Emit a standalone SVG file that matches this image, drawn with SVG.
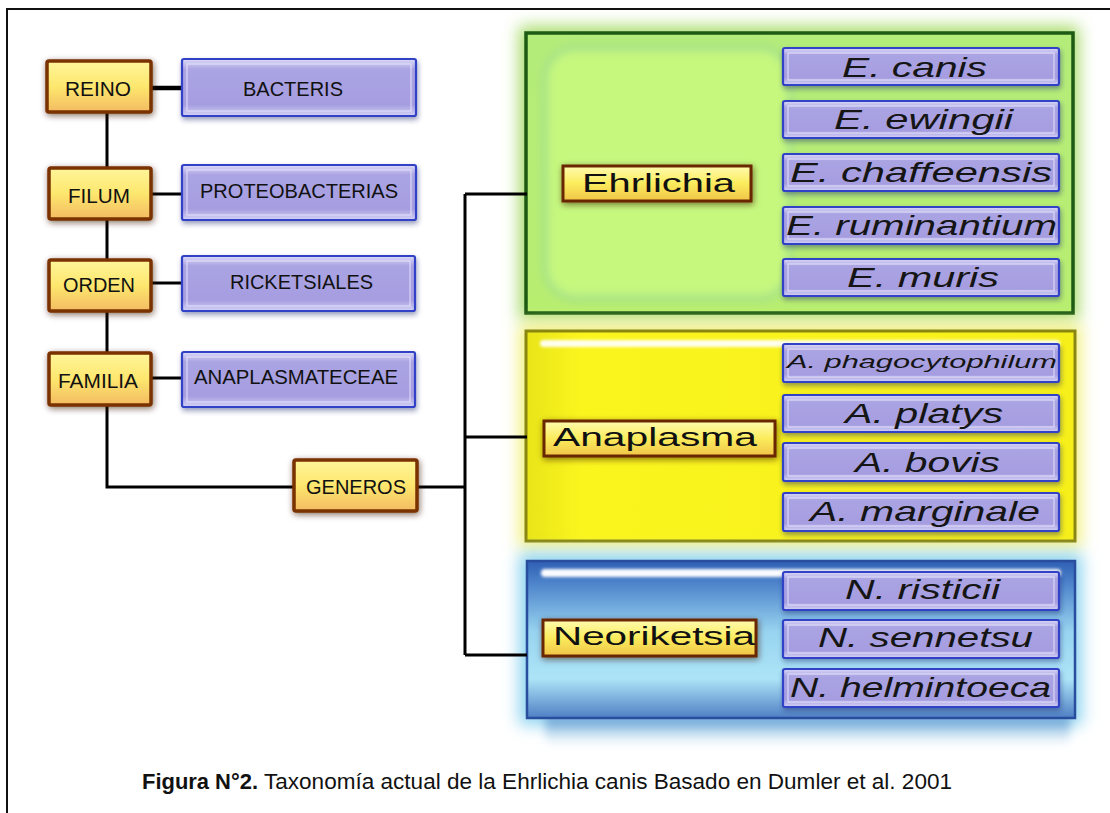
<svg xmlns="http://www.w3.org/2000/svg" width="1110" height="813" viewBox="0 0 1110 813">
<defs>
<style>
.lbl{font-family:"Liberation Sans",Arial,sans-serif;fill:#111;text-anchor:start}
.left{font-size:21px}
.sp{font-size:28px;font-style:italic;fill:#151515}
.gen{font-size:26px;fill:#111}
.ob{fill:url(#gOrange);stroke:#7a3000;stroke-width:3.5}
.ol{fill:url(#gOrange2);stroke:#6a2800;stroke-width:3}
.pb{fill:url(#gPurple);stroke:#3242c6;stroke-width:2.2}
.pi{fill:none;stroke:#e6e4fa;stroke-width:1.2;opacity:.8}
.cn{fill:none;stroke:#000;stroke-width:3}
</style>
<linearGradient id="gOrange" x1="0" y1="0" x2="0" y2="1">
<stop offset="0" stop-color="#fff59a"/>
<stop offset="0.5" stop-color="#fde76e"/>
<stop offset="1" stop-color="#f3bb62"/>
</linearGradient>
<linearGradient id="gOrange2" x1="0" y1="0" x2="0" y2="1">
<stop offset="0" stop-color="#fffbb0"/>
<stop offset="0.5" stop-color="#fbec5c"/>
<stop offset="1" stop-color="#f0c448"/>
</linearGradient>
<linearGradient id="gPurple" x1="0" y1="0" x2="0" y2="1">
<stop offset="0" stop-color="#dcdaf8"/>
<stop offset="0.18" stop-color="#aba4e3"/>
<stop offset="0.8" stop-color="#a59de0"/>
<stop offset="1" stop-color="#d4d2f6"/>
</linearGradient>
<linearGradient id="gGreen" x1="0" y1="0" x2="0" y2="1">
<stop offset="0" stop-color="#b4ec7a"/>
<stop offset="1" stop-color="#b8ee70"/>
</linearGradient>
<linearGradient id="gYellow" x1="0" y1="0" x2="1" y2="0">
<stop offset="0" stop-color="#e8e418"/>
<stop offset="0.1" stop-color="#fbf51e"/>
<stop offset="1" stop-color="#f6ef1a"/>
</linearGradient>
<linearGradient id="gBlue" x1="0" y1="0" x2="0" y2="1">
<stop offset="0" stop-color="#2f5fb4"/>
<stop offset="0.15" stop-color="#4f86cc"/>
<stop offset="0.45" stop-color="#98d4f0"/>
<stop offset="0.75" stop-color="#ade4f7"/>
<stop offset="1" stop-color="#4f7fc4"/>
</linearGradient>
<linearGradient id="gRefl" x1="0" y1="0" x2="0" y2="1">
<stop offset="0" stop-color="#5a90cc" stop-opacity="0.9"/>
<stop offset="1" stop-color="#9ccbe8" stop-opacity="0"/>
</linearGradient>
<filter id="shB" x="-20%" y="-30%" width="140%" height="170%">
<feGaussianBlur in="SourceAlpha" stdDeviation="3"/>
<feOffset dx="1" dy="2" result="b"/>
<feFlood flood-color="#3a1a00" flood-opacity="0.6"/>
<feComposite in2="b" operator="in"/>
<feMerge><feMergeNode/><feMergeNode in="SourceGraphic"/></feMerge>
</filter>
<filter id="shP" x="-10%" y="-30%" width="120%" height="170%">
<feGaussianBlur in="SourceAlpha" stdDeviation="2.5"/>
<feOffset dx="1" dy="3" result="b"/>
<feFlood flood-color="#202a70" flood-opacity="0.45"/>
<feComposite in2="b" operator="in"/>
<feMerge><feMergeNode/><feMergeNode in="SourceGraphic"/></feMerge>
</filter>
<filter id="blur8" x="-10%" y="-20%" width="120%" height="140%"><feGaussianBlur stdDeviation="8"/></filter>
<filter id="blur4" x="-10%" y="-20%" width="120%" height="140%"><feGaussianBlur stdDeviation="4"/></filter>
<filter id="blur2" x="-10%" y="-50%" width="120%" height="200%"><feGaussianBlur stdDeviation="1.5"/></filter>
</defs>

<rect x="0" y="0" width="1110" height="813" fill="#fff"/>
<path d="M7 813 V9 H1110" fill="none" stroke="#111" stroke-width="2"/>

<!-- panels -->
<g id="panel-ehrlichia">
<rect x="519" y="26" width="560" height="294" fill="#a8dc6a" filter="url(#blur8)"/>
<rect x="526" y="33" width="547" height="280" fill="url(#gGreen)" stroke="#1d5a14" stroke-width="3.5"/>
<rect x="545" y="48" width="245" height="250" rx="30" fill="#c6f87e" stroke="#a4e08a" stroke-width="6" filter="url(#blur4)"/>
</g>
<g id="panel-anaplasma">
<rect x="519" y="324" width="562" height="224" fill="#f2f080" filter="url(#blur8)"/>
<rect x="526" y="331" width="549" height="210" fill="url(#gYellow)" stroke="#8a8612" stroke-width="3"/>
<rect x="540" y="340" width="520" height="7" rx="3.5" fill="#fffff0" filter="url(#blur2)"/>
</g>
<g id="panel-neoriketsia">
<rect x="519" y="553" width="563" height="172" fill="#8ed4f0" filter="url(#blur8)"/>
<rect x="545" y="716" width="525" height="30" fill="url(#gRefl)" filter="url(#blur4)"/>
<rect x="527" y="561" width="548" height="157" fill="url(#gBlue)" stroke="#2a4e9e" stroke-width="2.5"/>
<rect x="541" y="569" width="520" height="8" rx="4" fill="#fafcff" filter="url(#blur2)"/>
</g>

<!-- connectors -->
<g id="connectors">
<line x1="152" y1="88" x2="181" y2="88" stroke="#000" stroke-width="4.5"/>
<line x1="152" y1="194" x2="181" y2="194" class="cn"/>
<line x1="152" y1="283" x2="181" y2="283" class="cn"/>
<line x1="152" y1="378" x2="181" y2="378" class="cn"/>
<path d="M107 113 V487 H293" class="cn"/>
<path d="M418 487 H465" class="cn"/>
<path d="M465 194 V655" class="cn"/>
<path d="M465 194 H527 M465 437 H527 M465 655 H527" class="cn"/>
</g>

<!-- left hierarchy -->
<g id="reino"><rect x="47" y="61" width="104" height="51" rx="2" class="ob" filter="url(#shB)"/><text x="65" y="96" class="lbl left" textLength="66" lengthAdjust="spacingAndGlyphs">REINO</text></g>
<g id="bacteris"><rect x="182" y="59" width="234" height="57" rx="2" class="pb" filter="url(#shP)"/><rect x="187" y="64" width="224" height="47" class="pi"/><text x="243" y="96" class="lbl left" textLength="100" lengthAdjust="spacingAndGlyphs">BACTERIS</text></g>

<g id="filum"><rect x="49" y="168" width="102" height="51" rx="2" class="ob" filter="url(#shB)"/><text x="68" y="203" class="lbl left" textLength="62" lengthAdjust="spacingAndGlyphs">FILUM</text></g>
<g id="proteobacterias"><rect x="182" y="165" width="234" height="55" rx="2" class="pb" filter="url(#shP)"/><rect x="187" y="170" width="224" height="45" class="pi"/><text x="200" y="198" class="lbl left" textLength="198" lengthAdjust="spacingAndGlyphs">PROTEOBACTERIAS</text></g>

<g id="orden"><rect x="49" y="260" width="102" height="51" rx="2" class="ob" filter="url(#shB)"/><text x="63" y="292" class="lbl left" textLength="72" lengthAdjust="spacingAndGlyphs">ORDEN</text></g>
<g id="ricketsiales"><rect x="182" y="256" width="233" height="55" rx="2" class="pb" filter="url(#shP)"/><rect x="187" y="261" width="223" height="45" class="pi"/><text x="230" y="289" class="lbl left" textLength="143" lengthAdjust="spacingAndGlyphs">RICKETSIALES</text></g>

<g id="familia"><rect x="49" y="353" width="102" height="52" rx="2" class="ob" filter="url(#shB)"/><text x="58" y="388" class="lbl left" textLength="80" lengthAdjust="spacingAndGlyphs">FAMILIA</text></g>
<g id="anaplasmataceae"><rect x="182" y="352" width="233" height="55" rx="2" class="pb" filter="url(#shP)"/><rect x="187" y="357" width="223" height="45" class="pi"/><text x="194" y="384" class="lbl left" textLength="204" lengthAdjust="spacingAndGlyphs">ANAPLASMATECEAE</text></g>

<g id="generos"><rect x="294" y="460" width="123" height="51" rx="2" class="ob" filter="url(#shB)"/><text x="306" y="494" class="lbl left" textLength="100" lengthAdjust="spacingAndGlyphs">GENEROS</text></g>

<!-- genus labels -->
<g id="ehrlichia"><rect x="563" y="166" width="188" height="35" class="ol" filter="url(#shB)"/><text x="582" y="192" class="lbl gen" textLength="153" lengthAdjust="spacingAndGlyphs">Ehrlichia</text></g>
<g id="anaplasma"><rect x="544" y="421" width="231" height="35" class="ol" filter="url(#shB)"/><text x="553" y="446" class="lbl gen" textLength="204" lengthAdjust="spacingAndGlyphs">Anaplasma</text></g>
<g id="neoriketsia"><rect x="543" y="620" width="213" height="36" class="ol" filter="url(#shB)"/><text x="553" y="645" class="lbl gen" textLength="202" lengthAdjust="spacingAndGlyphs">Neoriketsia</text></g>

<!-- species -->
<g id="e-canis"><rect x="783" y="48" width="276" height="37" rx="2" class="pb" filter="url(#shP)"/><rect x="788" y="53" width="266" height="27" class="pi"/><text x="842" y="77" class="lbl sp" textLength="145" lengthAdjust="spacingAndGlyphs">E. canis</text></g>
<g id="e-ewingii"><rect x="783" y="101" width="276" height="37" rx="2" class="pb" filter="url(#shP)"/><rect x="788" y="106" width="266" height="27" class="pi"/><text x="834" y="129" class="lbl sp" textLength="179" lengthAdjust="spacingAndGlyphs">E. ewingii</text></g>
<g id="e-chaffeensis"><rect x="783" y="154" width="276" height="37" rx="2" class="pb" filter="url(#shP)"/><rect x="788" y="159" width="266" height="27" class="pi"/><text x="790" y="182" class="lbl sp" textLength="262" lengthAdjust="spacingAndGlyphs">E. chaffeensis</text></g>
<g id="e-ruminantium"><rect x="783" y="207" width="276" height="37" rx="2" class="pb" filter="url(#shP)"/><rect x="788" y="212" width="266" height="27" class="pi"/><text x="786" y="235" class="lbl sp" textLength="271" lengthAdjust="spacingAndGlyphs">E. ruminantium</text></g>
<g id="e-muris"><rect x="783" y="259" width="276" height="37" rx="2" class="pb" filter="url(#shP)"/><rect x="788" y="264" width="266" height="27" class="pi"/><text x="847" y="287" class="lbl sp" textLength="152" lengthAdjust="spacingAndGlyphs">E. muris</text></g>

<g id="a-phagocytophilum"><rect x="783" y="344" width="276" height="38" rx="2" class="pb" filter="url(#shP)"/><rect x="788" y="349" width="266" height="28" class="pi"/><text x="787" y="368" class="lbl sp" style="font-size:18px" textLength="270" lengthAdjust="spacingAndGlyphs">A. phagocytophilum</text></g>
<g id="a-platys"><rect x="783" y="395" width="276" height="37" rx="2" class="pb" filter="url(#shP)"/><rect x="788" y="400" width="266" height="27" class="pi"/><text x="845" y="423" class="lbl sp" textLength="158" lengthAdjust="spacingAndGlyphs">A. platys</text></g>
<g id="a-bovis"><rect x="783" y="443" width="276" height="38" rx="2" class="pb" filter="url(#shP)"/><rect x="788" y="448" width="266" height="28" class="pi"/><text x="855" y="472" class="lbl sp" textLength="145" lengthAdjust="spacingAndGlyphs">A. bovis</text></g>
<g id="a-marginale"><rect x="783" y="493" width="276" height="38" rx="2" class="pb" filter="url(#shP)"/><rect x="788" y="498" width="266" height="28" class="pi"/><text x="810" y="521" class="lbl sp" textLength="230" lengthAdjust="spacingAndGlyphs">A. marginale</text></g>

<g id="n-risticii"><rect x="783" y="572" width="276" height="38" rx="2" class="pb" filter="url(#shP)"/><rect x="788" y="577" width="266" height="28" class="pi"/><text x="845" y="599" class="lbl sp" textLength="155" lengthAdjust="spacingAndGlyphs">N. risticii</text></g>
<g id="n-sennetsu"><rect x="783" y="620" width="276" height="38" rx="2" class="pb" filter="url(#shP)"/><rect x="788" y="625" width="266" height="28" class="pi"/><text x="818" y="647" class="lbl sp" textLength="215" lengthAdjust="spacingAndGlyphs">N. sennetsu</text></g>
<g id="n-helmintoeca"><rect x="783" y="669" width="276" height="38" rx="2" class="pb" filter="url(#shP)"/><rect x="788" y="674" width="266" height="28" class="pi"/><text x="790" y="697" class="lbl sp" textLength="261" lengthAdjust="spacingAndGlyphs">N. helmintoeca</text></g>

<!-- caption -->
<text x="142" y="789" class="lbl" style="font-size:22px;font-weight:bold" textLength="116" lengthAdjust="spacingAndGlyphs">Figura N°2.</text>
<text x="264" y="789" class="lbl" style="font-size:22px" textLength="688" lengthAdjust="spacingAndGlyphs">Taxonomía actual de la Ehrlichia canis Basado en  Dumler et al. 2001</text>
</svg>
